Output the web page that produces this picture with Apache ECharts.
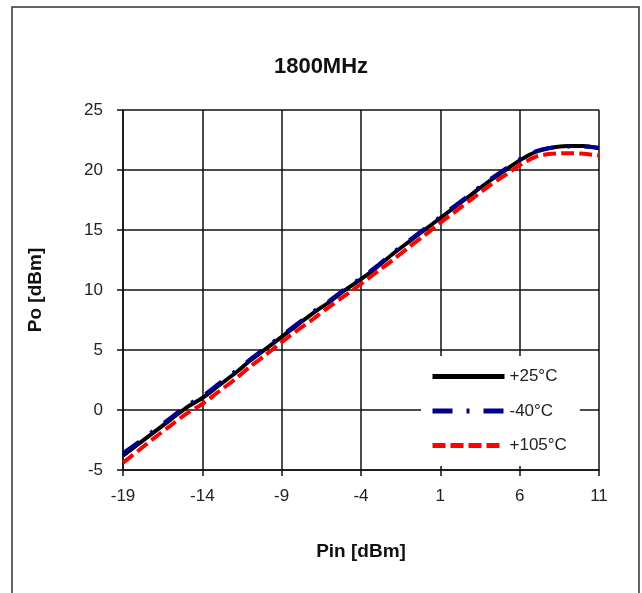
<!DOCTYPE html>
<html>
<head>
<meta charset="utf-8">
<script src="https://cdn.jsdelivr.net/npm/echarts@6/dist/echarts.min.js"></script>
<style>
html,body{margin:0;padding:0;background:#fff;}
#chart{width:642px;height:593px;}
</style>
</head>
<body>
<div id="chart"></div>
<script>
// Pin [dBm]
const pin = [-19,-18,-17,-16,-15,-14,-13,-12,-11,-10,-9,-8,-7,-6,-5,-4,-3,-2,-1,0,1,2,3,4,5,6,7,8,9,10,11];
// Po [dBm] per temperature
const po25 = [-3.8,-2.8,-1.8,-0.8,0.2,1.0,2.0,3.0,4.1,5.1,6.1,7.1,8.1,9.0,10.0,10.9,11.9,13.0,14.0,15.0,16.0,17.0,18.0,19.0,19.9,20.8,21.5,21.85,22.0,22.0,21.8];
const poM40 = [-3.6,-2.65,-1.65,-0.65,0.35,1.15,2.15,3.15,4.2,5.2,6.2,7.2,8.2,9.1,10.1,11.0,12.0,13.1,14.1,15.1,16.1,17.1,18.1,19.1,20.0,20.9,21.55,21.85,21.95,21.95,21.85];
const po105 = [-4.4,-3.35,-2.3,-1.3,-0.3,0.5,1.5,2.5,3.6,4.6,5.65,6.65,7.6,8.6,9.55,10.5,11.5,12.5,13.55,14.55,15.6,16.6,17.6,18.6,19.5,20.4,21.1,21.35,21.4,21.35,21.2];
const seriesNames = ['+25°C', '-40°C', '+105°C'];
const xTicks = [-19,-14,-9,-4,1,6,11];
const yTicks = [-5,0,5,10,15,20,25];

const pairs = arr => pin.map((x, i) => [x, arr[i]]);

const chart = echarts.init(document.getElementById('chart'), null, {renderer: 'canvas'});
const font = 'Liberation Sans, Arial, sans-serif';
chart.setOption({
  animation: false,
  backgroundColor: '#fff',
  graphic: [{
    type: 'rect',
    shape: {x: 12, y: 7, width: 627, height: 620},
    style: {fill: 'none', stroke: '#333', lineWidth: 1.5},
    z: 0
  }],
  title: {
    text: '1800MHz',
    left: 'center',
    top: 51,
    textStyle: {fontFamily: font, fontSize: 22, fontWeight: 'bold', color: '#111'}
  },
  grid: {left: 123, right: 43, top: 110, bottom: 123},
  legend: {
    data: seriesNames,
    orient: 'vertical',
    left: 421,
    top: 356,
    backgroundColor: '#fff',
    padding: [12, 13, 12, 9],
    itemWidth: 72,
    itemHeight: 14,
    itemGap: 17.5,
    itemStyle: {opacity: 0},
    lineStyle: {width: 5},
    textStyle: {fontFamily: font, fontSize: 17, color: '#222'}
  },
  xAxis: {
    type: 'value',
    min: -19,
    max: 11,
    name: 'Pin [dBm]',
    nameLocation: 'middle',
    nameGap: 72,
    nameTextStyle: {fontFamily: font, fontSize: 19, fontWeight: 'bold', color: '#111'},
    axisLine: {show: true, onZero: false, lineStyle: {color: '#111', width: 1.5}},
    axisTick: {show: true, customValues: xTicks, length: 6, inside: false, lineStyle: {color: '#111', width: 1.5}},
    axisLabel: {customValues: xTicks, margin: 18, fontFamily: font, fontSize: 17, color: '#222'},
    splitLine: {show: true, lineStyle: {color: '#111', width: 1.5}}
  },
  yAxis: {
    type: 'value',
    min: -5,
    max: 25,
    interval: 5,
    name: 'Po [dBm]',
    nameLocation: 'middle',
    nameRotate: 90,
    nameGap: 78,
    nameTextStyle: {fontFamily: font, fontSize: 19, fontWeight: 'bold', color: '#111'},
    axisLine: {show: true, onZero: false, lineStyle: {color: '#111', width: 1.5}},
    axisTick: {show: true, length: 6, lineStyle: {color: '#111', width: 1.5}},
    axisLabel: {margin: 20, fontFamily: font, fontSize: 17, color: '#222'},
    splitLine: {show: true, lineStyle: {color: '#111', width: 1.5}}
  },
  series: [
    {name: seriesNames[0], type: 'line', data: pairs(po25), symbol: 'none', smooth: 0.3,
     lineStyle: {color: '#000', width: 4, type: 'solid'}, itemStyle: {color: '#000'}},
    {name: seriesNames[1], type: 'line', data: pairs(poM40), symbol: 'none', smooth: 0.3,
     lineStyle: {color: '#00008c', width: 4, type: [20, 14, 3, 14]}, itemStyle: {color: '#00008c'}},
    {name: seriesNames[2], type: 'line', data: pairs(po105), symbol: 'none', smooth: 0.3,
     lineStyle: {color: '#ff0000', width: 4, type: [13, 5]}, itemStyle: {color: '#ff0000'}}
  ]
});
</script>
</body>
</html>
